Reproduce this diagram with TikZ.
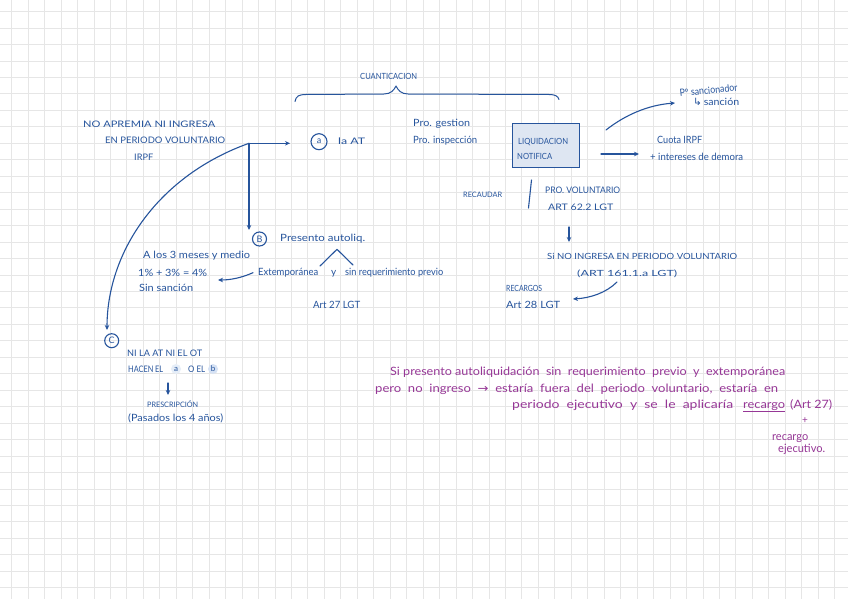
\documentclass[tikz,border=0pt]{standalone}
\usepackage{fontspec}
\setmainfont{Lato}
\newfontfamily\dejavu{DejaVu Sans}
\usetikzlibrary{arrows.meta}
\definecolor{ink}{RGB}{38,84,156}
\definecolor{pinkink}{RGB}{150,55,150}
\definecolor{boxfill}{RGB}{222,230,242}
\definecolor{hilite}{RGB}{214,226,244}
\definecolor{gridc}{RGB}{230,230,230}
\newlength\hwl
\newcommand\hw[2]{\settowidth\hwl{#2}\pgfmathsetmacro\hwf{#1/\hwl}\scalebox{\hwf}[1]{#2}}
\begin{document}
\begin{tikzpicture}[x=1pt,y=-1pt,
 t/.style={inner sep=0pt,anchor=base west,text=ink,font=\fontsize{9}{10}\selectfont},
 ts/.style={t,font=\fontsize{7.5}{8}\selectfont},
 tm/.style={t,font=\fontsize{8.5}{9}\selectfont},
 tl/.style={t,font=\fontsize{10}{11}\selectfont},
 tp/.style={inner sep=0pt,anchor=base west,text=pinkink,font=\fontsize{11.5}{12}\selectfont},
 ln/.style={draw=ink,line width=1.1pt,line cap=round,line join=round},
 arr/.style={ln,-{Stealth[length=5pt,width=4.5pt]}},
 circ/.style={draw=ink,line width=1.1pt,circle,inner sep=0pt,minimum size=14pt,text=ink,font=\fontsize{9}{10}\selectfont},
 hl/.style={fill=hilite,circle,inner sep=0pt,minimum size=10pt,text=ink,font=\fontsize{8}{9}\selectfont},
 gridline/.style={draw=gridc,line width=1pt}]
\useasboundingbox (0,0) rectangle (848,599);
\fill[white] (0,0) rectangle (848,599);
% grid
\foreach \k in {0,...,50}{\draw[gridline] ({11.7+16.46*\k},0) -- ({11.7+16.46*\k},599);}
\foreach \k in {0,...,35}{\draw[gridline] (0,{11.7+16.46*\k}) -- (848,{11.7+16.46*\k});}

% header
\node[tm] (cuant) at (360,80) {\hw{57}{CUANTICACION}};
\draw[ln,line width=1pt] (295,101.5) .. controls (296,96) and (299,94.5) .. (306,94.5)
  -- (384,94) .. controls (391,94) and (394,90) .. (396,86)
  .. controls (398,90) and (401,94) .. (408,94) -- (549,94.5)
  .. controls (555,94.5) and (558,96) .. (559,99.5);

% left block
\node[t] (n1) at (83,127.5) {\hw{132}{NO APREMIA NI INGRESA}};
\node[t] (n2) at (105,143.5) {\hw{120}{EN PERIODO VOLUNTARIO}};
\node[t] (n3) at (134,160) {\hw{19}{IRPF}};

\coordinate (j) at (249,143.3);
\coordinate (ja) at (290,143.3);
\coordinate (jb) at (249,230);
\coordinate (jc) at (107,330);

% a
\node[circ,minimum width=16pt,minimum height=13pt] (ca) at (319,141.7) {a};
\node[t] (laat) at (338,144) {\hw{27}{la AT}};
\draw[arr] (j) -- (ja);

\node[tl] (pg) at (413,126.7) {\hw{57}{Pro. gestion}};
\node[tl] (pi) at (413,143.3) {\hw{64}{Pro. inspección}};

% liquidacion box
\node[draw=ink,fill=boxfill,line width=1pt,inner sep=0pt,minimum width=67pt,minimum height=43pt] (box) at (545.5,145.5) {};
\node[tm] (lq) at (518,144) {\hw{50}{LIQUIDACION}};
\node[tm] (nt) at (517,159.3) {\hw{35}{NOTIFICA}};

% sancionador
\coordinate (s1) at (606,130);
\coordinate (s2) at (675,103);
\draw[arr] (s1) .. controls (625,115) and (648,105) .. (s2);
\node[tl,rotate=6] (ps) at (680,97) {\hw{58}{Pº sancionador}};
\node[tl] (sa) at (693,105.5) {\hw{46}{{\dejavu ↳}\,sanción}};

\coordinate (c1) at (601,154);
\coordinate (c2) at (639,154);
\draw[arr] (c1) -- (c2);
\node[tl] (cu) at (657,143.3) {\hw{45}{Cuota IRPF}};
\node[tl] (id) at (650,160) {\hw{93}{+ intereses de demora}};

% recaudar
\node[ts] (rec) at (463,197.3) {\hw{39}{RECAUDAR}};
\coordinate (r1) at (531.5,180);
\coordinate (r2) at (528.5,208);
\draw[ln] (r2) -- (r1);
\node[t] (pv) at (545,193.3) {\hw{75}{PRO. VOLUNTARIO}};
\node[t] (a62) at (548,210) {\hw{65}{ART 62.2 LGT}};
\coordinate (d1) at (569,227);
\coordinate (d2) at (569,242);
\draw[arr] (d1) -- (d2);
\node[tm] (sino) at (547,259.3) {\hw{190}{Si NO INGRESA EN PERIODO VOLUNTARIO}};
\node[tm] (a161) at (577,276) {\hw{100}{(ART 161.1.a LGT)}};
\coordinate (g1) at (617,282);
\coordinate (g2) at (573,299);
\draw[arr] (g1) .. controls (606,293) and (590,298) .. (g2);
\node[tm] (rcg) at (506,291.7) {\hw{36}{RECARGOS}};
\node[tl] (a28) at (506,308.3) {\hw{54}{Art 28 LGT}};

% B
\draw[arr] (j) -- (jb);
\node[circ] (cb) at (259.5,239) {B};
\node[tl] (pres) at (280,241.7) {\hw{85}{Presento autoliq.}};
\coordinate (v1) at (320,266);
\coordinate (v0) at (337,249.3);
\coordinate (v2) at (353,265);
\draw[ln] (v1) -- (v0) -- (v2);
\node[tl] (ext) at (258,275) {\hw{60}{Extemporánea}};
\node[tl] (yy) at (331,275) {y};
\node[tl] (sinr) at (345,275) {\hw{98}{sin requerimiento previo}};
\node[tl] (a27) at (313,308) {\hw{47}{Art 27 LGT}};
\node[tl] (meses) at (143,258.3) {\hw{107}{A los 3 meses y medio}};
\node[tl] (pct) at (138,276.7) {\hw{69}{1\% + 3\% = 4\%}};
\node[tl] (sins) at (139,291) {\hw{54}{Sin sanción}};
\coordinate (e0) at (253,272.7);
\coordinate (e1) at (218,280);
\draw[arr] (e0) .. controls (241,278) and (230,280) .. (e1);

% C
\draw[arr] (j) .. controls (160,175) and (107,250) .. (jc);
\node[circ] (cc) at (111.7,340.7) {C};
\node[t] (ni) at (127,356) {\hw{75}{NI LA AT NI EL OT}};
\node[t] (hac) at (128,372.3) {\hw{35}{HACEN EL}};
\node[hl,fill=hilite!60] (ha) at (176,369) {a};
\node[t] (oel) at (188,372.3) {\hw{17}{O EL}};
\node[hl] (hb) at (213,369) {b};
\coordinate (p1) at (168,383);
\coordinate (p2) at (168,395);
\draw[arr] (p1) -- (p2);
\node[ts] (presc) at (147,407.3) {\hw{51}{PRESCRIPCIÓN}};
\node[tl] (pas) at (128,421.7) {\hw{95}{(Pasados los 4 años)}};

% purple note
\node[tp] (q1) at (390,375) {\hw{395}{Si presento autoliquidación \ sin \ requerimiento \ previo \ y \ extemporánea}};
\node[tp] (q2) at (375,392) {\hw{403}{pero \ no \ ingreso \ {\dejavu →} \ estaría \ fuera \ del \ periodo \ voluntario, \ estaría \ en}};
\node[tp] (q3) at (512,408.3) {\hw{221}{periodo \ ejecutivo \ y \ se \ le \ aplicaría}};
\node[tp] (q4) at (743,408.3) {\hw{42}{recargo}};
\draw[draw=pinkink,line width=0.9pt] ([yshift=-3pt]q4.base west) -- ([yshift=-3pt]q4.base east);
\node[tp] (q5) at (790,408.3) {\hw{42}{(Art 27)}};
\node[tp,anchor=center,font=\fontsize{10}{10}\selectfont] (q6) at (805,421) {+};
\node[tp] (q7) at (772,440) {\hw{36}{recargo}};
\node[tp] (q8) at (778,452) {\hw{47}{ejecutivo.}};
\end{tikzpicture}
\end{document}
